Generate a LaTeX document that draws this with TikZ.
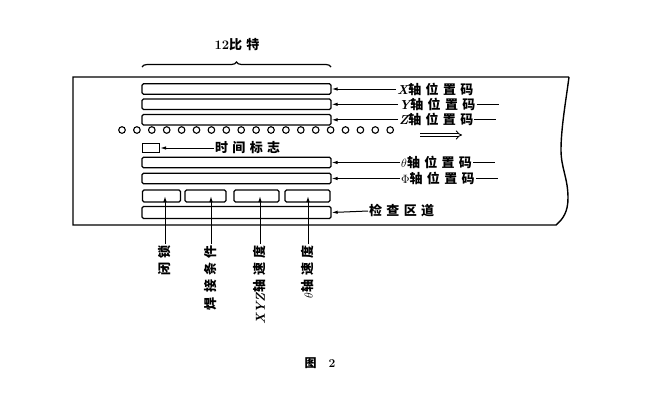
\documentclass[tikz,border=0pt]{standalone}
\usepackage{fontspec}
\newfontfamily\cjk[LetterSpace=33]{Noto Sans CJK SC}
\newcommand{\lat}[1]{{\rmfamily\bfseries\itshape #1}}
\usetikzlibrary{arrows.meta,decorations.pathreplacing}

\begin{document}
\begin{tikzpicture}[x=1pt, y=-1pt,
  bar/.style={draw, line width=1.3pt, rounded corners=1.5pt, minimum width=189pt, minimum height=10.5pt, inner sep=0pt},
  cell/.style={draw, line width=1.3pt, rounded corners=1.5pt, minimum height=12pt, inner sep=0pt},
  lbl/.style={font=\fontsize{13}{15}\selectfont\cjk\bfseries, inner sep=1pt},
  arr/.style={line width=1pt, -{Latex[length=6pt,width=3.5pt]}}]
  \useasboundingbox (0,0) rectangle (645,400);
  % Tape
  \draw[line width=1.4pt] (569,77) -- (73,77) -- (73,225) -- (556,225)
    .. controls (563,219) and (568,212) .. (568,198)
    .. controls (568,178) and (561,168) .. (561,150)
    .. controls (561,128) and (566,100) .. (569,77);
  % Brace
  \draw[line width=1.2pt, decorate, decoration={brace, amplitude=5pt}] (142,67) -- (331,67);
  \node[lbl] (bits) at (237,45) {{\rmfamily 12}比特};
  % Tracks
  \node[bar] (xbar) at (236.5,89) {};
  \node[bar] (ybar) at (236.5,104.3) {};
  \node[bar] (zbar) at (236.5,119.8) {};
  \node[bar] (tbar) at (236.5,162.5) {};
  \node[bar] (pbar) at (236.5,178.5) {};
  \node[bar, minimum height=12pt] (cbar) at (236.5,212.5) {};
  \node[cell, minimum width=38pt] (c1) at (161.5,196) {};
  \node[cell, minimum width=41pt] (c2) at (205.5,196) {};
  \node[cell, minimum width=45pt] (c3) at (256.5,196) {};
  \node[cell, minimum width=45pt] (c4) at (307.5,196) {};
  % Sprocket holes
  \foreach \i in {0,...,18}
    \draw[line width=1.1pt] (122+14.9*\i,130) circle [radius=3.3pt];
  % Time mark
  \node[draw, line width=1.3pt, minimum width=17pt, minimum height=9pt, inner sep=0pt] (tmark) at (151,148) {};
  \node[lbl, anchor=west] (tlab) at (214,148) {时间标志};
  \draw[arr] (tlab.west) -- (tmark.east);
  % Right labels
  \node[lbl, anchor=west] (xlab) at (396,89) {\lat{X}轴位置码};
  \node[lbl, anchor=west] (ylab) at (398,104.3) {\lat{Y}轴位置码};
  \node[lbl, anchor=west] (zlab) at (398,119.8) {\lat{Z}轴位置码};
  \node[lbl, anchor=west] (tlab2) at (400,162.5) {$\theta$轴位置码};
  \node[lbl, anchor=west] (plab) at (400,178.5) {$\Phi$轴位置码};
  \node[lbl, anchor=west] (clab) at (368,211) {检查区道};
  \foreach \l/\b in {xlab/xbar, ylab/ybar, zlab/zbar, tlab2/tbar, plab/pbar, clab/cbar}
    \draw[arr] (\l.west) -- (\b.east);
  \foreach \l in {ylab, zlab, tlab2, plab}
    \draw[line width=1pt] (\l.east) -- ++(22,0);
  % Direction of motion
  \coordinate (mv) at (420,135);
  \draw[double, double distance=2.2pt, line width=0.9pt, -Implies] (mv) -- ++(42,0);
  % Bottom labels
  \node[lbl, rotate=90, anchor=east] (s1) at (165,244) {闭锁};
  \node[lbl, rotate=90, anchor=east] (s2) at (211,244) {焊接条件};
  \node[lbl, rotate=90, anchor=east] (s3) at (260,244) {\lat{XYZ}轴速度};
  \node[lbl, rotate=90, anchor=east] (s4) at (308,244) {$\theta$轴速度};
  \foreach \s/\c in {s1/c1, s2/c2, s3/c3, s4/c4}
    \draw[arr] (\s.east) -- (\s.east |- \c.center);
  % Caption
  \node[font=\fontsize{12}{14}\selectfont\cjk\bfseries] (cap) at (320,363) {图\quad{\rmfamily 2}};
\end{tikzpicture}
\end{document}
